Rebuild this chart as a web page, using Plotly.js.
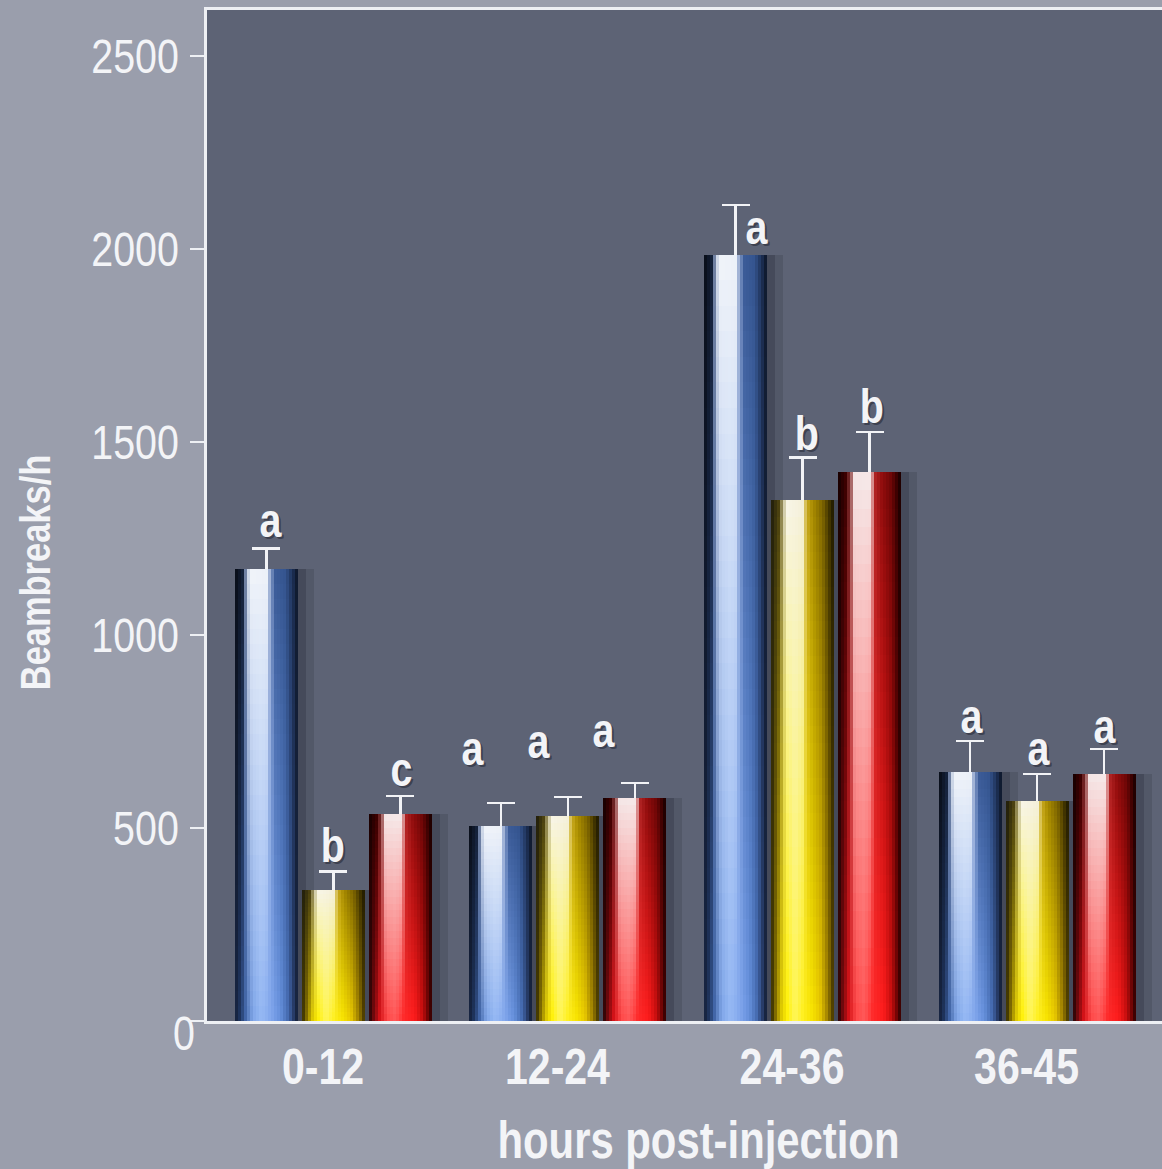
<!DOCTYPE html>
<html>
<head>
<meta charset="utf-8">
<script src="https://cdn.plot.ly/plotly-3.0.1.min.js"></script>
<style>
  html, body { margin: 0; padding: 0; background: #9a9eac; }
  #chart { width: 1162px; height: 1169px; }
</style>
</head>
<body>
<div id="chart"></div>
<script>
// ---- data -------------------------------------------------------------
const categories = ['0-12', '12-24', '24-36', '36-45'];
const group1Mean = [1172, 505, 1985, 645];
const group1Sem  = [52, 60, 129, 80];
const group2Mean = [340, 531, 1350, 570];
const group2Sem  = [48, 49, 109, 70];
const group3Mean = [537, 578, 1422, 640];
const group3Sem  = [46, 39, 104, 65];
const group1Letters = ['a', 'a', 'a', 'a'];
const group2Letters = ['b', 'a', 'b', 'a'];
const group3Letters = ['c', 'a', 'b', 'a'];
const yTickVals = [0, 500, 1000, 1500, 2000, 2500];
const xTitleText = 'hours post-injection';
const yTitleText = 'Beambreaks/h';

// ---- geometry / style -------------------------------------------------
const W = 1162, H = 1169;
const margin = { l: 207, r: 0, t: 10, b: 148 };
const xRange = [-0.537, 3.535];
const yRange = [0, 2619];
const pxPerUnit = (W - margin.l - margin.r) / (xRange[1] - xRange[0]);
const barW = 63 / pxPerUnit;          // bar width in category units
const barStep = 67 / pxPerUnit;       // distance between neighbouring bars
const firstOffset = -98 / pxPerUnit;  // left edge of first bar in a group
const N_SLICES = 21;                  // horizontal shading resolution
const N_BANDS = 30;                   // vertical shading resolution
const FONT = "'Liberation Sans', Arial, 'DejaVu Sans', sans-serif";
const NARROW = 0.82;                  // horizontal squeeze giving a narrow face
const TEXT = '#f3f4f7';

// cylinder shading profiles: colour across the bar at its foot and at its top
const shading = [
  { // blue
    bottom: [[0, '#141e36'], [0.08, '#203660'], [0.16, '#3e62a4'], [0.28, '#7ea5e8'], [0.42, '#95b8f4'],
             [0.58, '#7fa5ec'], [0.72, '#6590dc'], [0.85, '#4368ad'], [0.94, '#24365e'], [1, '#111a2e']],
    top:    [[0, '#070b14'], [0.12, '#142038'], [0.18, '#8a9cc0'], [0.23, '#f2f5fa'], [0.5, '#eef2f8'],
             [0.57, '#7f96c4'], [0.64, '#3a5a96'], [0.8, '#34548e'], [0.92, '#1c2e52'], [1, '#0b1322']]
  },
  { // yellow
    bottom: [[0, '#2c2400'], [0.08, '#8a7500'], [0.15, '#d8c200'], [0.25, '#fff000'], [0.38, '#fff65a'],
             [0.5, '#fff020'], [0.65, '#f8e400'], [0.78, '#e8c800'], [0.9, '#a08000'], [1, '#3a2e00']],
    top:    [[0, '#1c1a0a'], [0.12, '#4a4010'], [0.19, '#b0a878'], [0.24, '#f8f6ea'], [0.5, '#f4f0dc'],
             [0.57, '#c8a820'], [0.66, '#a88a00'], [0.82, '#7a6200'], [0.93, '#3c3000'], [1, '#1a1500']]
  },
  { // red
    bottom: [[0, '#1e0404'], [0.08, '#7a0a0e'], [0.17, '#d81218'], [0.3, '#ff4848'], [0.42, '#ff5656'],
             [0.55, '#ff2a2a'], [0.72, '#ff1c1c'], [0.85, '#c80e0e'], [0.94, '#6a0404'], [1, '#260000']],
    top:    [[0, '#140000'], [0.12, '#3a0000'], [0.2, '#8a3a3a'], [0.25, '#f4e8e8'], [0.52, '#f6eaea'],
             [0.58, '#b02424'], [0.7, '#8e0c0c'], [0.85, '#6a0606'], [0.95, '#300000'], [1, '#120000']]
  }
];

function hexRgb(h) {
  return [parseInt(h.slice(1, 3), 16), parseInt(h.slice(3, 5), 16), parseInt(h.slice(5, 7), 16)];
}
function sample(stops, t) {
  for (let i = 1; i < stops.length; i++) {
    if (t <= stops[i][0]) {
      const a = stops[i - 1], b = stops[i];
      const f = (t - a[0]) / (b[0] - a[0]);
      const ca = hexRgb(a[1]), cb = hexRgb(b[1]);
      return ca.map((v, k) => v + (cb[k] - v) * f);
    }
  }
  return hexRgb(stops[stops.length - 1][1]);
}
function mix(c1, c2, f) {
  const c = c1.map((v, k) => Math.round(v + (c2[k] - v) * f));
  return 'rgb(' + c.join(',') + ')';
}

// one bar trace per series; each bar is split into thin slices and bands so it
// reads as a lit cylinder
function cylinderTrace(name, means, offset0, prof) {
  const x = [], y = [], base = [], off = [], wid = [], col = [];
  const sliceW = barW / N_SLICES;
  means.forEach((v, c) => {
    for (let k = 0; k < N_BANDS; k++) {
      const b0 = v * k / N_BANDS, b1 = v * (k + 1) / N_BANDS;
      const vf = (k + 0.5) / N_BANDS;
      for (let j = 0; j < N_SLICES; j++) {
        const t = (j + 0.5) / N_SLICES;
        x.push(categories[c]);
        base.push(b0);
        y.push(b1 - b0);
        off.push(offset0 + j * sliceW);
        wid.push(sliceW);
        col.push(mix(sample(prof.bottom, t), sample(prof.top, t), vf));
      }
    }
  });
  return {
    type: 'bar', name: name, x: x, y: y, base: base, offset: off, width: wid,
    marker: { color: col, line: { width: 0 } },
    hoverinfo: 'skip', showlegend: false
  };
}

// soft drop shadow to the right of each bar
function shadowTraces(means, offset0) {
  const layers = [[10, 16, 'rgba(25,28,40,0.16)'], [5, 8, 'rgba(25,28,40,0.22)']];
  return layers.map(([shift, grow, color]) => ({
    type: 'bar', x: categories, y: means,
    offset: offset0 + shift / pxPerUnit, width: barW + grow / pxPerUnit - shift / pxPerUnit,
    marker: { color: color, line: { width: 0 } },
    hoverinfo: 'skip', showlegend: false
  }));
}

// error bars sit underneath the bars, so only the upper whisker shows
function errorTrace(means, sem, offset0) {
  return {
    type: 'bar', x: categories, y: means, offset: offset0, width: barW,
    marker: { color: 'rgba(0,0,0,0)', line: { width: 0 } },
    error_y: { type: 'data', array: sem, symmetric: true, color: '#f2f3f6', thickness: 2.6, width: 14 },
    hoverinfo: 'skip', showlegend: false
  };
}

const series = [
  { name: 'Group 1', mean: group1Mean, sem: group1Sem, letters: group1Letters },
  { name: 'Group 2', mean: group2Mean, sem: group2Sem, letters: group2Letters },
  { name: 'Group 3', mean: group3Mean, sem: group3Sem, letters: group3Letters }
];

const traces = [];
series.forEach((s, i) => traces.push(errorTrace(s.mean, s.sem, firstOffset + i * barStep)));
series.forEach((s, i) => traces.push(...shadowTraces(s.mean, firstOffset + i * barStep)));
series.forEach((s, i) => traces.push(cylinderTrace(s.name, s.mean, firstOffset + i * barStep, shading[i])));

// letter nudges in px [dx, dy] per series, per category
const letterNudge = [
  [[4, 4], [-28, 30], [21, -47], [1, 0]],
  [[-1, 1], [-29, 31], [4, 0], [1, 1]],
  [[1, 2], [-31, 28], [2, 1], [0, -2]]
];

const annotations = [];
series.forEach((s, i) => {
  const centerPx = (firstOffset + i * barStep + barW / 2) * pxPerUnit;
  s.letters.forEach((letter, c) => {
    const [dx, dy] = letterNudge[i][c];
    const common = {
      x: categories[c], y: s.mean[c] + s.sem[c], xref: 'x', yref: 'y',
      text: letter, showarrow: false, xanchor: 'center', yanchor: 'bottom'
    };
    annotations.push(Object.assign({}, common, {
      xshift: centerPx + dx + 2, yshift: -4 + dy - 2,
      font: { family: FONT, size: 48, weight: 700, color: 'rgba(20,22,34,0.45)' }
    }));
    annotations.push(Object.assign({}, common, {
      xshift: centerPx + dx, yshift: -4 + dy,
      font: { family: FONT, size: 48, weight: 700, color: TEXT }
    }));
  });
});

const layout = {
  width: W, height: H,
  margin: margin,
  paper_bgcolor: '#9a9eac',
  plot_bgcolor: '#5d6375',
  barmode: 'overlay',
  bargap: 0, bargroupgap: 0,
  showlegend: false,
  xaxis: {
    type: 'category', range: xRange, fixedrange: true,
    showline: true, linecolor: '#eef0f4', linewidth: 2.6, mirror: true,
    showgrid: false, zeroline: false, ticks: '',
    ticklabelshift: -10, ticklabelstandoff: 0,
    tickfont: { family: FONT, size: 50, weight: 700, color: TEXT },
    title: { text: xTitleText, standoff: 34, font: { family: FONT, size: 51, weight: 700, color: TEXT } }
  },
  yaxis: {
    range: yRange, fixedrange: true,
    tickmode: 'array', tickvals: yTickVals,
    showline: true, linecolor: '#eef0f4', linewidth: 2.6,
    showgrid: false, zeroline: false,
    ticks: 'outside', ticklen: 14, tickwidth: 2.6, tickcolor: '#eef0f4',
    ticklabelstandoff: 2,
    tickfont: { family: FONT, size: 48, color: TEXT },
    title: { text: yTitleText, standoff: 32, font: { family: FONT, size: 42, weight: 700, color: TEXT } }
  },
  annotations: annotations
};

// narrow the lettering and place the titles after drawing
function finishText(gd) {
  gd.querySelectorAll('.xtick text, .ytick text, .xtitle, .ytitle, .annotation-text').forEach(el => {
    const w = el.getComputedTextLength();
    if (w > 0) {
      el.setAttribute('textLength', (w * NARROW).toFixed(2));
      el.setAttribute('lengthAdjust', 'spacingAndGlyphs');
    }
  });
  const shiftEl = (el, dx, dy) => {
    if (!el) return;
    el.setAttribute('transform', 'translate(' + dx + ',' + dy + ') ' + (el.getAttribute('transform') || ''));
  };
  shiftEl(gd.querySelector('.ytitle'), 12, 57);
  shiftEl(gd.querySelector('.xtitle'), 14, 0);
  // the zero label sits low and tucked against the axis
  const zero = gd.querySelector('.ytick text');
  shiftEl(zero, 16, 12);
}

const gd = document.getElementById('chart');
Plotly.newPlot(gd, traces, layout, { displayModeBar: false, staticPlot: true }).then(finishText);
</script>
</body>
</html>
